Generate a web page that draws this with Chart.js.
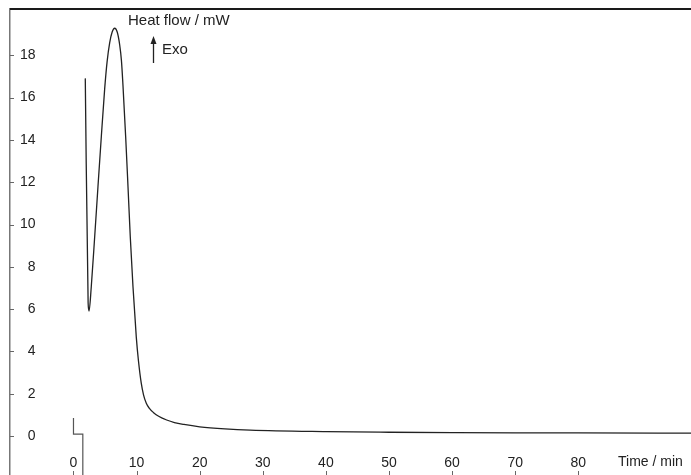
<!DOCTYPE html>
<html>
<head>
<meta charset="utf-8">
<title>Heat flow</title>
<style>
	html, body { margin: 0; padding: 0; background: #fff; }
	.dsc { position: relative; width: 691px; height: 475px; }
</style>
</head>
<body>
<div class="dsc"><canvas id="dsc__chart"></canvas></div>
<script src="https://cdn.jsdelivr.net/npm/chart.js@4/dist/chart.umd.min.js"></script>
<script>
// values
const timeMin = [
	1.87, 2.32, 2.46, 2.82, 3.36, 3.88, 4.41, 4.94, 5.33, 5.74, 6.13, 6.53,
	6.93, 7.32, 7.6, 7.84, 8.27, 8.64, 9.0, 9.43, 9.95, 10.3, 10.74, 11.1,
	11.54, 12.0, 12.65, 13.5, 14.77, 16, 17.5, 20, 24, 28, 40, 50, 60, 70, 80,
	98,
];
const heatFlow = [
	16.91, 6.3, 5.91, 7.06, 9.42, 11.79, 14.15, 16.4, 17.7, 18.6, 19.1, 19.28,
	19.1, 18.5, 17.75, 16.6, 14.15, 11.79, 9.42, 7.06, 4.69, 3.55, 2.5, 1.95,
	1.55, 1.32, 1.12, 0.94, 0.76, 0.64, 0.55, 0.44, 0.34, 0.28, 0.21, 0.18,
	0.16, 0.15, 0.15, 0.14,
];
// baseline step before the sample goes in
const stepTime = [0, 0, 1.48, 1.48];
const stepFlow = [0.85, 0.09, 0.09, -3];

const xTicks = [0, 10, 20, 30, 40, 50, 60, 70, 80];
const yTicks = [0, 2, 4, 6, 8, 10, 12, 14, 16, 18];

const fontFamily = '"Liberation Sans", Arial, Helvetica, sans-serif';

const toPoints = (xs, ys) => xs.map((x, i) => ({ x: x, y: ys[i] }));

////frame, inner tick marks, labels
const framePlugin = {
	id: 'frame',
	afterDraw(chart) {
		const { ctx, chartArea, scales } = chart;
		const x = scales.x;
		const y = scales.y;
		ctx.save();

		// top line
		ctx.strokeStyle = '#1a1a1a';
		ctx.lineWidth = 2;
		ctx.beginPath();
		ctx.moveTo(chartArea.left, chartArea.top);
		ctx.lineTo(chartArea.right, chartArea.top);
		ctx.stroke();

		// small ticks on the left
		ctx.strokeStyle = '#666';
		ctx.lineWidth = 1;
		y.ticks.forEach(t => {
			const py = Math.round(y.getPixelForValue(t.value)) + 0.5;
			ctx.beginPath();
			ctx.moveTo(chartArea.left, py);
			ctx.lineTo(chartArea.left + 4, py);
			ctx.stroke();
		});

		// small ticks at the bottom
		x.ticks.forEach(t => {
			const px = Math.round(x.getPixelForValue(t.value)) + 0.5;
			ctx.beginPath();
			ctx.moveTo(px, chartArea.bottom - 4);
			ctx.lineTo(px, chartArea.bottom);
			ctx.stroke();
		});

		// axis labels
		ctx.fillStyle = '#222';
		ctx.font = '15px ' + fontFamily;
		ctx.textBaseline = 'middle';
		ctx.textAlign = 'left';
		ctx.fillText('Heat flow / mW', 128, 21);
		ctx.fillText('Exo', 162, 50);
		ctx.font = '14px ' + fontFamily;
		ctx.fillText('Time / min', 618, 462);

		// exo arrow
		ctx.strokeStyle = '#222';
		ctx.lineWidth = 1.3;
		ctx.beginPath();
		ctx.moveTo(153.5, 63);
		ctx.lineTo(153.5, 42);
		ctx.stroke();
		ctx.beginPath();
		ctx.moveTo(153.5, 36);
		ctx.lineTo(150.5, 44);
		ctx.lineTo(156.5, 44);
		ctx.closePath();
		ctx.fill();

		ctx.restore();
	},
};

document.addEventListener('DOMContentLoaded', function () {
	const ctx = document.getElementById('dsc__chart').getContext('2d');

	new Chart(ctx, {
		type: 'line',
		data: {
			datasets: [
				{
					data: toPoints(timeMin, heatFlow),
					borderColor: '#222',
					borderWidth: 1.3,
					cubicInterpolationMode: 'monotone',
					pointRadius: 0,
					fill: false,
				},
				{
					data: toPoints(stepTime, stepFlow),
					borderColor: '#555',
					borderWidth: 1.2,
					tension: 0,
					pointRadius: 0,
					fill: false,
				},
			],
		},
		options: {
			responsive: true,
			maintainAspectRatio: false,
			animation: false,
			events: [],
			layout: { padding: { left: 10, top: 9, right: 0, bottom: 0 } },
			plugins: {
				legend: { display: false },
				tooltip: { enabled: false },
			},
			scales: {
				x: {
					type: 'linear',
					position: 'bottom',
					min: -10.06,
					max: 97.86,
					grid: { display: false, drawTicks: false },
					border: { display: false },
					afterBuildTicks: scale => {
						scale.ticks = xTicks.map(v => ({ value: v }));
					},
					afterFit: scale => {
						scale.height = 0;
						scale.paddingLeft = 0;
						scale.paddingRight = 0;
					},
					ticks: {
						mirror: true,
						padding: 3,
						maxRotation: 0,
						color: '#222',
						font: { family: fontFamily, size: 14 },
					},
				},
				y: {
					type: 'linear',
					position: 'left',
					min: -1.84,
					max: 20.19,
					grid: { display: false, drawTicks: false },
					border: { display: true, color: '#777', width: 1.5 },
					afterBuildTicks: scale => {
						scale.ticks = yTicks.map(v => ({ value: v }));
					},
					afterFit: scale => {
						scale.width = 0;
						scale.paddingTop = 0;
						scale.paddingBottom = 0;
					},
					ticks: {
						mirror: true,
						crossAlign: 'far',
						padding: 10,
						color: '#222',
						font: { family: fontFamily, size: 14 },
					},
				},
			},
		},
		plugins: [framePlugin],
	});
});
</script>
</body>
</html>
